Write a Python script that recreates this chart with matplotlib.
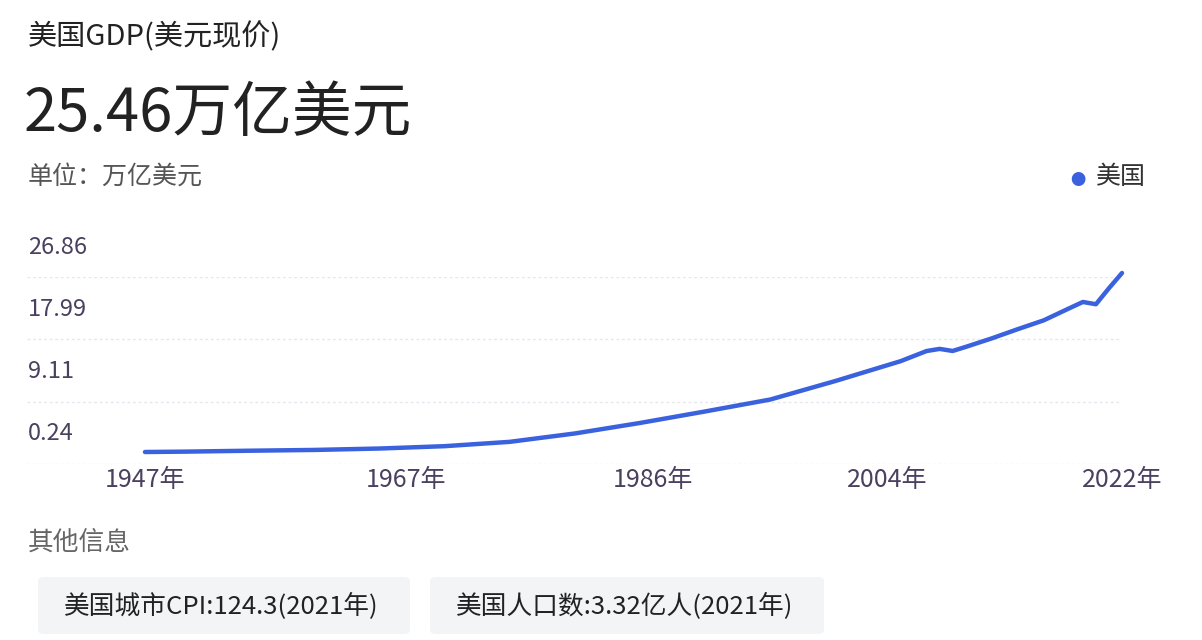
import matplotlib
matplotlib.use('Agg')
import matplotlib.pyplot as plt
from matplotlib.patches import FancyBboxPatch
import matplotlib.transforms as mtransforms

plt.rcParams['font.family'] = ['Noto Sans CJK SC', 'DejaVu Sans']

# US GDP, trillion USD (current prices)
years = [1947, 1950, 1955, 1960, 1965, 1970, 1975, 1980, 1985, 1990, 1995,
         2000, 2005, 2007, 2008, 2009, 2010, 2012, 2014, 2016, 2018, 2019,
         2020, 2021, 2022]
gdp = [0.25, 0.30, 0.43, 0.54, 0.74, 1.07, 1.68, 2.86, 4.34, 5.96, 7.64,
       10.25, 13.04, 14.47, 14.77, 14.48, 15.05, 16.25, 17.55, 18.80, 20.53,
       21.38, 21.06, 23.32, 25.46]
xtick_years = [1947, 1967, 1986, 2004, 2022]
ytick_labels = ['0.24', '9.11', '17.99', '26.86']

W, H = 1202, 640
fig = plt.figure(figsize=(W / 100, H / 100), dpi=100)
fig.patch.set_facecolor('white')

def fx(x):
    return x / W

def fy(y):
    return 1 - y / H

# plot area in pixels: x 27..1122, y 277..464
ax = fig.add_axes([fx(27), fy(464), fx(1122 - 27), (464 - 277) / H])
ax.set_facecolor('white')
px_per_unit = 179 / (25.46 - 0.25)
ybot = 0.25 - (464 - 452) / px_per_unit
ytop = 0.25 + (452 - 277) / px_per_unit
ax.set_ylim(ybot, ytop)
ax.set_xlim(1947 - (145 - 27) / 13.03, 2022)

ax.plot(years, gdp, color='#3b62de', lw=3.2, solid_capstyle='round',
        solid_joinstyle='round', zorder=3, clip_on=False)

gridvals = [ybot + (ytop - ybot) * i / 3 for i in range(4)]
ax.set_yticks(gridvals)
ax.set_yticklabels([])
ax.tick_params(axis='y', length=0)
ax.grid(axis='y', color='#e6e7ee', linestyle=(0, (2, 2)), lw=1)
ax.set_xticks(xtick_years)
ax.set_xticklabels([f'{y}年' for y in xtick_years], fontsize=18, color='#4a4060')
ax.tick_params(axis='x', length=0, pad=2)
for s in ax.spines.values():
    s.set_visible(False)

off = mtransforms.offset_copy(ax.transData, fig=fig, x=0, y=30, units='dots')
for v, lab in zip(gridvals, ytick_labels):
    ax.text(ax.get_xlim()[0] + 0.1, v, lab, transform=off, fontsize=17,
            color='#4a4060', ha='left', va='center')

fig.text(fx(28), fy(37), '美国GDP(美元现价)', fontsize=21, color='#222222', va='center')
fig.text(fx(24), fy(115), '25.46万亿美元', fontsize=43, color='#222222', va='center')
fig.text(fx(28), fy(177), '单位：万亿美元', fontsize=18, color='#555555', va='center')
fig.text(fx(1078), fy(180), '●', fontsize=11, color='#3b62de', va='center', ha='center')
fig.text(fx(1096), fy(177), '美国', fontsize=18, color='#333333', va='center')
fig.text(fx(28), fy(543), '其他信息', fontsize=18.5, color='#666666', va='center')

boxes = [(38, 410, '美国城市CPI:124.3(2021年)'), (430, 824, '美国人口数:3.32亿人(2021年)')]
for x0, x1, txt in boxes:
    fig.patches.append(FancyBboxPatch((fx(x0), fy(634)), fx(x1 - x0), (634 - 577) / H,
                                      boxstyle='round,pad=0,rounding_size=0.006',
                                      transform=fig.transFigure, facecolor='#f3f4f6',
                                      edgecolor='none'))
    fig.text(fx(x0 + 26), fy(606), txt, fontsize=18.5, color='#222222', va='center')

fig.savefig('out.png', dpi=100, facecolor='white')
